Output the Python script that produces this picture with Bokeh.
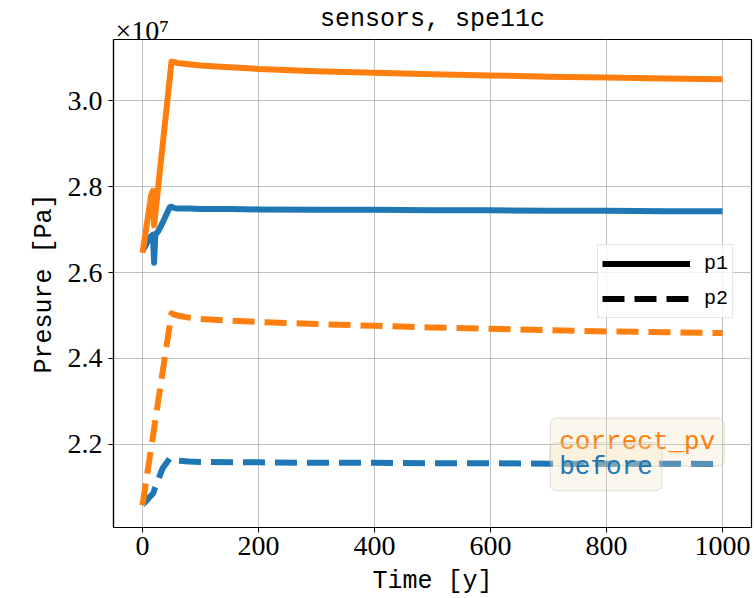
from bokeh.plotting import figure
from bokeh.models import (Range1d, Legend, LegendItem, Label, ColumnDataSource,
                          CustomJSTickFormatter, FixedTicker, LinearAxis)
from bokeh.embed import file_html
from bokeh.resources import INLINE

# ---- data (pressure in units of 1e7 Pa) ----
time_years = [0, 5, 10, 15, 18, 20, 22, 27, 35, 47, 50, 55, 60, 80, 100, 150,
              200, 300, 400, 500, 600, 700, 800, 900, 1000]
before_p1 = [2.650, 2.662, 2.676, 2.685, 2.688, 2.623, 2.688, 2.696, 2.717, 2.752,
             2.753, 2.750, 2.749, 2.749, 2.748, 2.748, 2.747, 2.746, 2.746, 2.745,
             2.745, 2.744, 2.744, 2.743, 2.743]
before_p2 = [2.060, 2.066, 2.074, 2.081, 2.085, 2.092, 2.100, 2.118, 2.145, 2.167,
             2.167, 2.164, 2.162, 2.160, 2.159, 2.158, 2.158, 2.157, 2.157, 2.156,
             2.156, 2.155, 2.155, 2.155, 2.154]
correct_pv_p1 = [2.646, 2.690, 2.735, 2.780, 2.790, 2.710, 2.735, 2.799, 2.900, 3.052,
                 3.091, 3.090, 3.088, 3.085, 3.082, 3.078, 3.074, 3.069, 3.065, 3.062,
                 3.059, 3.056, 3.054, 3.052, 3.050]
correct_pv_p2 = [2.058, 2.103, 2.148, 2.192, 2.219, 2.237, 2.255, 2.300, 2.371, 2.478,
                 2.505, 2.502, 2.500, 2.495, 2.492, 2.488, 2.485, 2.480, 2.476, 2.472,
                 2.469, 2.466, 2.463, 2.461, 2.459]
PRESSURE_SCALE = 1e7
y_ticks = [2.2, 2.4, 2.6, 2.8, 3.0]
x_ticks = [0, 200, 400, 600, 800, 1000]
series_names = ["before", "correct_pv"]
sensor_names = ["p1", "p2"]
title_text = "sensors, spe11c"
offset_text = "\u00d710\u2077"

BLUE = "#1f77b4"
ORANGE = "#ff7f0e"
MONO = "Liberation Mono"
SERIF = "Liberation Serif"

def pa(vals):
    return [v * PRESSURE_SCALE for v in vals]

all_y = pa(before_p1 + before_p2 + correct_pv_p1 + correct_pv_p2)
ylo, yhi = min(all_y), max(all_y)
ypad = 0.05 * (yhi - ylo)
xlo, xhi = min(time_years), max(time_years)
xpad = 0.05 * (xhi - xlo)
x_start, x_end = xlo - xpad, xhi + xpad

p = figure(width=754, height=598, output_backend="svg", toolbar_location=None,
           x_range=Range1d(x_start, x_end),
           y_range=Range1d(ylo - ypad, yhi + ypad),
           min_border_left=113, min_border_right=3, min_border_top=39,
           min_border_bottom=68)

p.outline_line_color = "black"
p.outline_line_width = 1.2
p.outline_line_alpha = 1.0

for ax in (p.xaxis[0], p.yaxis[0]):
    ax.axis_line_color = "black"
    ax.axis_line_width = 1.2
    ax.major_tick_out = 5
    ax.major_tick_in = 0
    ax.major_tick_line_color = "black"
    ax.minor_tick_line_color = None
    ax.major_label_text_font = SERIF
    ax.major_label_text_font_size = "28px"
    ax.major_label_text_color = "black"
    ax.axis_label_text_font = MONO
    ax.axis_label_text_font_size = "25px"
    ax.axis_label_text_font_style = "normal"
    ax.axis_label_text_color = "black"

p.xaxis.ticker = FixedTicker(ticks=x_ticks)
p.yaxis.ticker = FixedTicker(ticks=[t * PRESSURE_SCALE for t in y_ticks])
p.yaxis.formatter = CustomJSTickFormatter(code="return (tick/1e7).toFixed(1);")
p.xaxis.axis_label = "Time [y]"
p.yaxis.axis_label = "Presure [Pa]"
p.xaxis.major_label_standoff = 4
p.yaxis.major_label_standoff = 6
p.xaxis.axis_label_standoff = 9
p.yaxis.axis_label_standoff = 6

# top axis: carries the offset text (x10^7) next to the frame's left edge and the title
offset_pos = x_start + 0.045 * (x_end - x_start)
top = LinearAxis(ticker=FixedTicker(ticks=[offset_pos]),
                 formatter=CustomJSTickFormatter(code="return '%s';" % offset_text),
                 axis_line_color=None, major_tick_line_color=None,
                 minor_tick_line_color=None, major_tick_out=0, major_tick_in=0,
                 major_label_standoff=-6,
                 major_label_text_font=SERIF, major_label_text_font_size="28px",
                 major_label_text_color="black",
                 axis_label=title_text, axis_label_text_font=MONO,
                 axis_label_text_font_size="25px", axis_label_text_font_style="normal",
                 axis_label_text_color="black", axis_label_standoff=-22)
p.add_layout(top, "above")

p.grid.grid_line_color = "#b0b0b0"
p.grid.grid_line_width = 1
p.grid.grid_line_alpha = 0.8

# ---- data lines: "before" first (blue), then "correct_pv" (orange) ----
series = {
    "before": (BLUE, before_p1, before_p2),
    "correct_pv": (ORANGE, correct_pv_p1, correct_pv_p2),
}
for name in series_names:
    color, s1, s2 = series[name]
    p.line(time_years, pa(s1), line_color=color, line_width=6, line_join="round")
    p.line(time_years, pa(s2), line_color=color, line_width=6, line_dash="22 10",
           line_join="round")

# ---- style legend (p1 solid / p2 dashed); renderers hold no visible data ----
nan = float("nan")
src1 = ColumnDataSource(data=dict(x=[nan], y=[nan]))
src2 = ColumnDataSource(data=dict(x=[nan], y=[nan]))
r1 = p.line("x", "y", source=src1, line_color="black", line_width=6)
r2 = p.line("x", "y", source=src2, line_color="black", line_width=6, line_dash="22 10")
legend = Legend(items=[LegendItem(label=sensor_names[0], renderers=[r1]),
                       LegendItem(label=sensor_names[1], renderers=[r2])],
                location=(484, 209), glyph_width=88, glyph_height=29,
                label_standoff=14, padding=4, spacing=6, margin=0,
                border_line_color="#cccccc", border_line_width=1,
                background_fill_alpha=0.8,
                label_text_font=MONO, label_text_font_size="20px",
                label_text_color="black")
p.add_layout(legend)

# ---- colour labels ----
lbl_x = 703
for text, color, yv in [("correct_pv", ORANGE, 2.2053), ("before", BLUE, 2.1478)]:
    p.add_layout(Label(x=lbl_x, y=yv * PRESSURE_SCALE, text=text, text_color=color,
                       text_font=MONO, text_font_size="26px",
                       text_baseline="middle", text_align="left",
                       background_fill_color="wheat", background_fill_alpha=0.25,
                       border_line_color="#aaaaaa", border_line_alpha=0.35,
                       padding=9, border_radius=6))

open("out.html", "w").write(file_html(p, INLINE))
